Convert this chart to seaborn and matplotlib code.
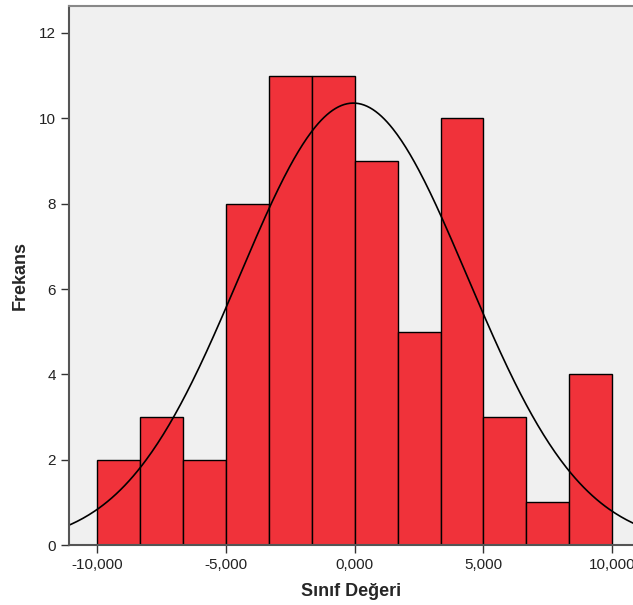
import numpy as np
import pandas as pd
import matplotlib
matplotlib.use("Agg")
import matplotlib.pyplot as plt
import seaborn as sns
from matplotlib.ticker import FuncFormatter

# bins and counts
bin_lo, bin_hi, n_bins = -10, 10, 12
counts = [2, 3, 2, 8, 11, 11, 9, 5, 10, 3, 1, 4]
curve_mean = -0.05
curve_sd = 4.43
xticks = [-10, -5, 0, 5, 10]
yticks = [0, 2, 4, 6, 8, 10, 12]

edges = np.linspace(bin_lo, bin_hi, n_bins + 1)
centers = (edges[:-1] + edges[1:]) / 2
df = pd.DataFrame({"deger": centers, "n": counts})

sns.set_style("white")
plt.rcParams["font.family"] = ["Liberation Sans", "DejaVu Sans"]

fig = plt.figure(figsize=(6.33, 6.05), dpi=100)
ax = fig.add_axes([0.109, 0.099, 0.891, 0.891])
ax.set_facecolor("#f0f0f0")

sns.histplot(data=df, x="deger", weights="n", bins=n_bins, binrange=(bin_lo, bin_hi),
             ax=ax, color="#f0323a", alpha=1, edgecolor="black", linewidth=1)

# normal curve
xs = np.linspace(-11.2, 11, 400)
bw = edges[1] - edges[0]
ys = sum(counts) * bw / (curve_sd * np.sqrt(2 * np.pi)) * np.exp(-0.5 * ((xs - curve_mean) / curve_sd) ** 2)
ax.plot(xs, ys, color="black", linewidth=1.2)

ax.set_xlim(-11.08, 10.8)
ax.set_ylim(0, 12.63)
ax.set_xticks(xticks)
ax.set_yticks(yticks)
ax.xaxis.set_major_formatter(FuncFormatter(lambda v, p: f"{v:.3f}".replace(".", ",")))
ax.tick_params(direction="out", length=6, width=1, color="#333333",
               labelsize=11, labelcolor="#222222", bottom=True, left=True)

for s in ["left", "bottom", "top"]:
    ax.spines[s].set_color("#555555")
    ax.spines[s].set_linewidth(1.5)
ax.spines["top"].set_color("#888888")
ax.spines["right"].set_visible(False)

ax.set_xlabel("Sınıf Değeri", fontsize=13, fontweight="bold", labelpad=8)
ax.set_ylabel("Frekans", fontsize=13, fontweight="bold", labelpad=7)

fig.savefig("out.png", dpi=100)
